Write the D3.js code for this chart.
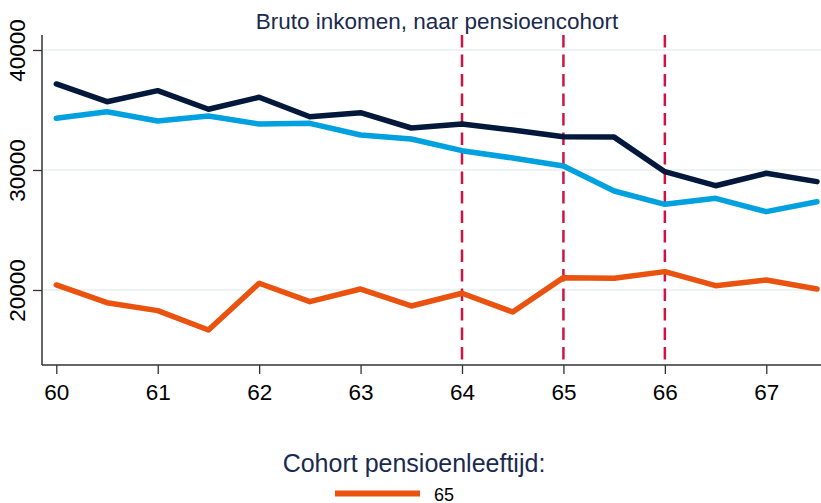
<!DOCTYPE html>
<html>
<head>
<meta charset="utf-8">
<script src="https://cdn.jsdelivr.net/npm/d3@7"></script>
<style>
  body { margin: 0; background: #fff; }
  text { font-family: "Liberation Sans", Arial, sans-serif; }
</style>
</head>
<body>
<div id="chart"></div>
<script>
// leeftijd (x) en bruto inkomen per reeks
var ages = [60, 60.5, 61, 61.5, 62, 62.5, 63, 63.5, 64, 64.5, 65, 65.5, 66, 66.5, 67, 67.5];
var navySeries = [37170, 35690, 36610, 35060, 36060, 34440, 34780, 33500, 33830, 33330, 32770, 32740, 29860, 28690, 29730, 29030];
var blueSeries = [34310, 34860, 34080, 34500, 33830, 33890, 32920, 32580, 31610, 31000, 30330, 28250, 27140, 27640, 26530, 27360];
var orangeSeries = [20420, 18940, 18280, 16670, 20560, 19030, 20080, 18670, 19730, 18170, 21030, 20980, 21530, 20360, 20830, 20080];
var cutoffAges = [64, 65, 66];
var xTicks = [60, 61, 62, 63, 64, 65, 66, 67];
var yTicks = [20000, 30000, 40000];

var width = 821, height = 503;
var plotLeft = 42, plotTop = 35, plotBottom = 365, plotRight = 821;

var svg = d3.select("#chart").append("svg")
    .attr("width", width)
    .attr("height", height);

var x = d3.scaleLinear().domain([60, 67.5]).range([56.3, 817]);
var y = d3.scaleLinear().domain([13750, 41250]).range([plotBottom, plotTop]);

// gridlines
svg.selectAll(".grid")
    .data(yTicks)
    .enter().append("line")
    .attr("x1", plotLeft).attr("x2", plotRight)
    .attr("y1", function(d) { return y(d); })
    .attr("y2", function(d) { return y(d); })
    .attr("stroke", "#e6eff1")
    .attr("stroke-width", 1.5);

// axes
var xAxis = svg.append("g")
    .attr("transform", "translate(0," + plotBottom + ")")
    .call(d3.axisBottom(x).tickValues(xTicks).tickSize(9).tickSizeOuter(0).tickFormat(d3.format("d")));
xAxis.select(".domain").remove();
xAxis.selectAll("line").attr("stroke", "#333").attr("stroke-width", 1.3);
xAxis.selectAll("text")
    .attr("y", 0).attr("dy", 35)
    .attr("fill", "#000")
    .style("font-size", "22.5px");

var yAxis = svg.append("g")
    .attr("transform", "translate(" + plotLeft + ",0)")
    .call(d3.axisLeft(y).tickValues(yTicks).tickSize(9).tickSizeOuter(0).tickFormat(d3.format("d")));
yAxis.select(".domain").remove();
yAxis.selectAll("line").attr("stroke", "#333").attr("stroke-width", 1.3);
yAxis.selectAll("text")
    .attr("x", null).attr("dy", null)
    .attr("transform", "translate(-17,0) rotate(-90)")
    .attr("text-anchor", "middle")
    .attr("fill", "#000")
    .style("font-size", "22.5px");

svg.append("line")
    .attr("x1", plotLeft).attr("x2", plotRight)
    .attr("y1", plotBottom).attr("y2", plotBottom)
    .attr("stroke", "#333").attr("stroke-width", 1.5);
svg.append("line")
    .attr("x1", plotLeft).attr("x2", plotLeft)
    .attr("y1", plotTop).attr("y2", plotBottom)
    .attr("stroke", "#333").attr("stroke-width", 1.5);

// cutoff lines
svg.selectAll(".cutoff")
    .data(cutoffAges)
    .enter().append("line")
    .attr("x1", function(d) { return x(d); })
    .attr("x2", function(d) { return x(d); })
    .attr("y1", plotTop).attr("y2", plotBottom)
    .attr("stroke", "#cf1444")
    .attr("stroke-width", 2.5)
    .attr("stroke-dasharray", "12.5,7");

// series lines
var line = d3.line()
    .x(function(d, i) { return x(ages[i]); })
    .y(function(d) { return y(d); });

var series = [
    { values: navySeries, color: "#03183a" },
    { values: blueSeries, color: "#00a1de" },
    { values: orangeSeries, color: "#ea520f" }
];

svg.selectAll(".series")
    .data(series)
    .enter().append("path")
    .attr("d", function(d) { return line(d.values); })
    .attr("fill", "none")
    .attr("stroke", function(d) { return d.color; })
    .attr("stroke-width", 5.5)
    .attr("stroke-linejoin", "round")
    .attr("stroke-linecap", "round");

// title
svg.append("text")
    .attr("x", 437).attr("y", 28.5)
    .attr("text-anchor", "middle")
    .attr("fill", "#1a2a4e")
    .style("font-size", "22.5px")
    .text("Bruto inkomen, naar pensioencohort");

// legend
svg.append("text")
    .attr("x", 414).attr("y", 472)
    .attr("text-anchor", "middle")
    .attr("fill", "#1a2a4e")
    .style("font-size", "25px")
    .text("Cohort pensioenleeftijd:");

svg.append("line")
    .attr("x1", 335).attr("x2", 420)
    .attr("y1", 493.5).attr("y2", 493.5)
    .attr("stroke", "#ea520f")
    .attr("stroke-width", 6);

svg.append("text")
    .attr("x", 434).attr("y", 501)
    .attr("fill", "#000")
    .style("font-size", "18px")
    .text("65");
</script>
</body>
</html>
